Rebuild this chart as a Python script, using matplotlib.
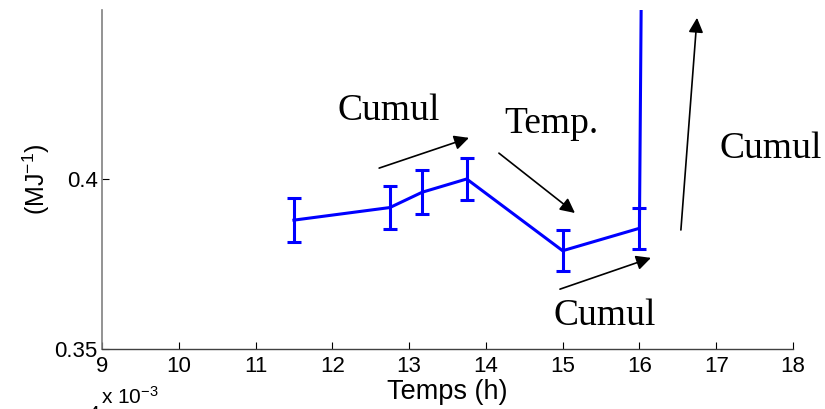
import matplotlib
matplotlib.use("Agg")
import matplotlib.pyplot as plt

# Data
hours = [11.5, 12.75, 13.17, 13.75, 15.0, 16.0, 16.05]
values = [0.3879, 0.3916, 0.3961, 0.4000, 0.3789, 0.3855, 0.53]
errors = [0.0065, 0.0063, 0.0064, 0.0062, 0.0060, 0.0060, 0.0]

xticks = [9, 10, 11, 12, 13, 14, 15, 16, 17, 18]
yticks = [0.35, 0.4]
ytick_labels = ["0.35", "0.4"]

# annotations: (text, x, y)
labels = [("Cumul", 12.74, 0.4174), ("Temp.", 14.86, 0.4135),
          ("Cumul", 15.55, 0.3571), ("Cumul", 17.71, 0.4062)]
# arrows: (x_start, y_start, x_end, y_end)
arrows = [(12.61, 0.4032, 13.78, 0.4121),
          (14.17, 0.4076, 15.16, 0.3900),
          (14.965, 0.3676, 16.15, 0.3768),
          (16.54, 0.3850, 16.75, 0.4474)]

plt.rcParams['font.family'] = ['Liberation Sans', 'DejaVu Sans']
plt.rcParams['mathtext.fontset'] = 'custom'
plt.rcParams['mathtext.rm'] = 'Liberation Sans'
plt.rcParams['mathtext.it'] = 'Liberation Sans'

fig = plt.figure(figsize=(8.25, 4.09), dpi=100)
ax = fig.add_axes([0.1236, 0.1467, 0.8376, 0.8289])

ax.errorbar(hours, values, yerr=errors, color='#0000ff', lw=2.2,
            capsize=4.7, capthick=2.2, elinewidth=2.2)

ax.set_xlim(9, 18)
ax.set_ylim(0.35, 0.4497)
ax.set_xticks(xticks)
ax.set_yticks(yticks)
ax.set_yticklabels(ytick_labels)
ax.tick_params(direction='in', length=5, width=0.8, labelsize=16, pad=5,
               top=False, right=False)
ax.tick_params(axis='y', pad=3)

for s in ['top', 'right']:
    ax.spines[s].set_visible(False)
ax.spines['left'].set_color('#808080')
ax.spines['left'].set_linewidth(1.2)
ax.spines['bottom'].set_color('#404040')
ax.spines['bottom'].set_linewidth(1.0)

ax.set_xlabel("Temps (h)", fontsize=19.5, labelpad=1.5)
ax.set_ylabel("(MJ$^{\\mathrm{-1}}$)", fontsize=18, labelpad=2)

for txt, x, y in labels:
    ax.text(x, y, txt, ha='center', va='baseline', fontsize=27,
            family=['Liberation Serif', 'DejaVu Serif'], clip_on=False)

for x0, y0, x1, y1 in arrows:
    ax.annotate("", xy=(x1, y1), xytext=(x0, y0),
                arrowprops=dict(arrowstyle='-|>', color='k', lw=1.2,
                                mutation_scale=22, shrinkA=0, shrinkB=0),
                annotation_clip=False)

fig.text(101/825, 1-404/409, "x 10$^{\\mathrm{-3}}$", fontsize=15,
         ha='left', va='baseline')
fig.text(87/825, 1-405/409, "4", fontsize=15.5, ha='left', va='top')

fig.savefig("out.png", dpi=100)
